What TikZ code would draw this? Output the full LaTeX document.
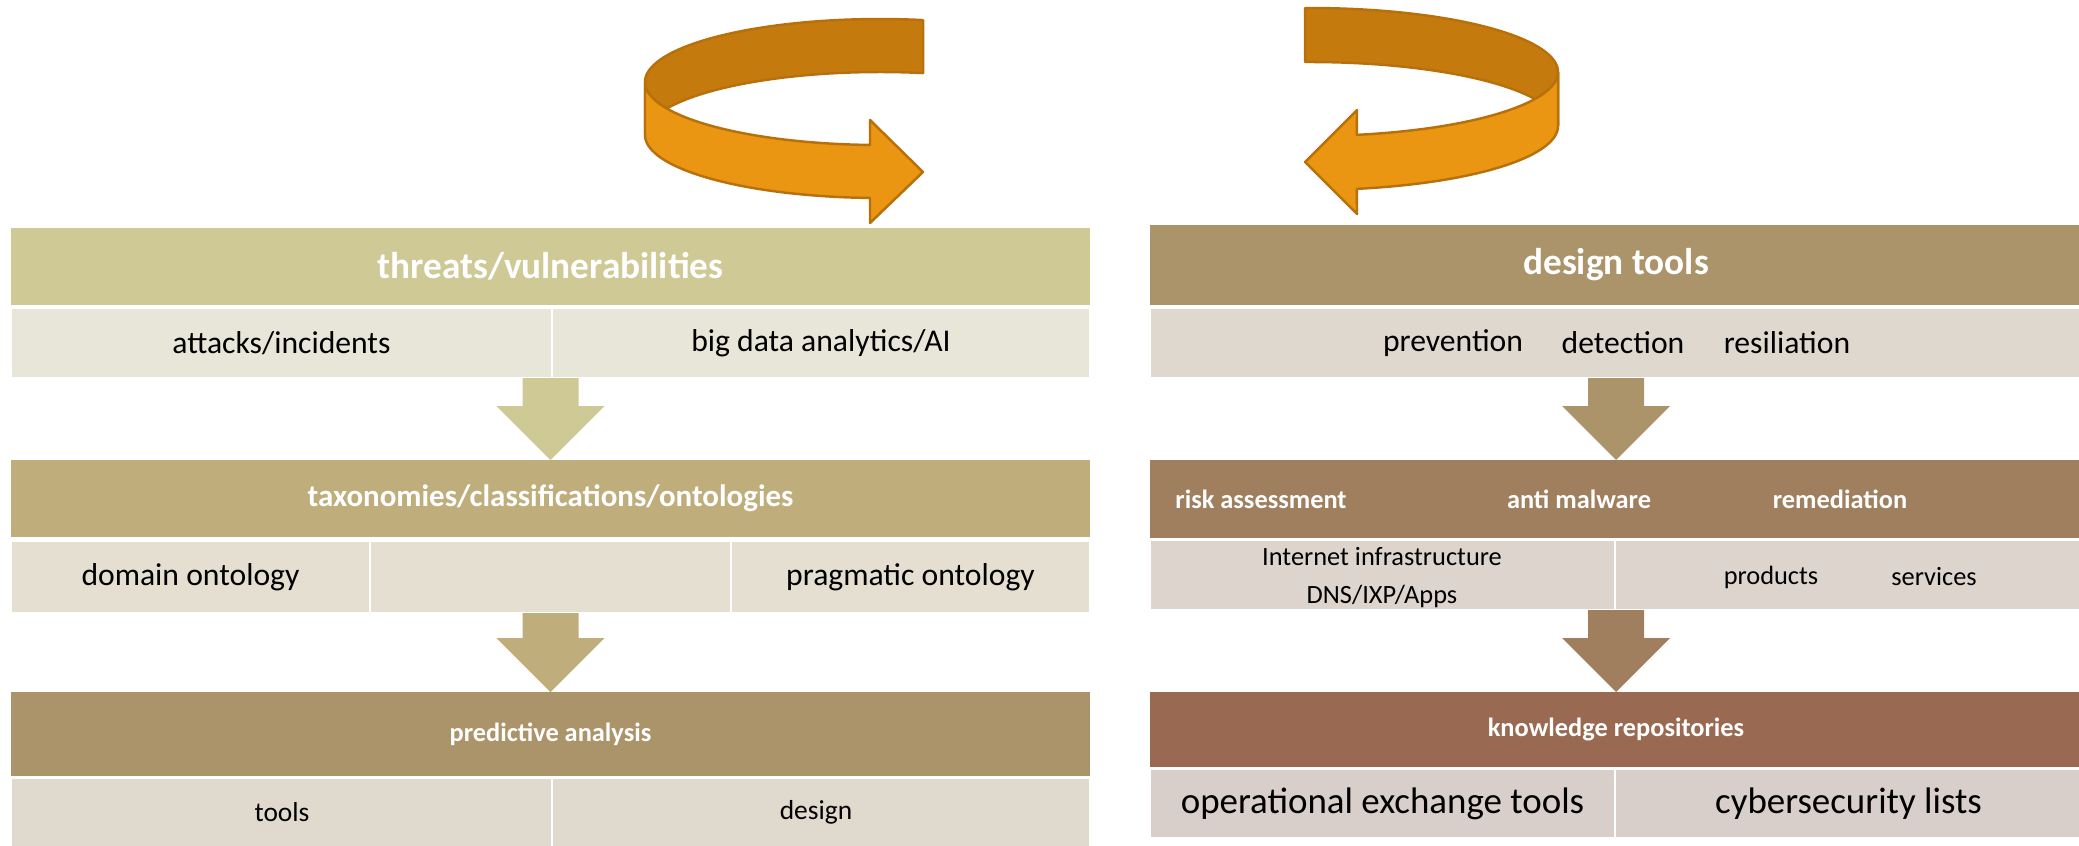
\documentclass[tikz,border=0pt]{standalone}
\usepackage{fontspec}
\setmainfont{Carlito}
\usetikzlibrary{fit,calc}
\definecolor{cA}{HTML}{CEC995}\definecolor{sAc}{HTML}{E8E6D8}
\definecolor{cB}{HTML}{BFAE7C}\definecolor{sBc}{HTML}{E4DFD1}
\definecolor{cC}{HTML}{AC946A}\definecolor{sCc}{HTML}{E0D9CE}
\definecolor{cD}{HTML}{AC946A}\definecolor{sDc}{HTML}{DFD8CE}
\definecolor{cE}{HTML}{A07F5E}\definecolor{sEc}{HTML}{DDD5CD}
\definecolor{cF}{HTML}{996A51}\definecolor{sFc}{HTML}{D9CFCA}
\definecolor{odark}{HTML}{C47A0D}\definecolor{olight}{HTML}{EB9612}\definecolor{oedge}{HTML}{B8700B}
\newcommand\blkarrow[3]{\fill[#3] ($(#2 |- #1)+(-28,0)$) -- ($(#2)+(-28,-54)$) -- ($(#2)+(-54,-54)$) -- (#2) -- ($(#2)+(54,-54)$) -- ($(#2)+(28,-54)$) -- ($(#2 |- #1)+(28,0)$) -- cycle;}
\begin{document}
\begin{tikzpicture}[x=0.01cm,y=-0.01cm,
  hdr/.style={inner sep=0pt, outer sep=0pt},
  cell/.style={inner sep=0pt, outer sep=0pt, draw=white, line width=0.6pt},
  lbl/.style={inner sep=0pt, outer sep=0pt, text=black},
  wl/.style={inner sep=0pt, outer sep=0pt, text=white, font=\bfseries\fontsize{7.5}{9}\selectfont},
  bigh/.style={inner sep=0pt, outer sep=0pt, text=white, font=\bfseries\fontsize{10.6}{13}\selectfont},
  sub9/.style={font=\fontsize{9}{11}\selectfont},
  sub75/.style={font=\fontsize{7.5}{9}\selectfont},
  ring/.style={draw=oedge, line width=0.7pt, line join=round}]
\useasboundingbox (0,0) rectangle (2079,845);

% ---------- curved arrows ----------
\filldraw[ring, fill=odark] plot[domain=79.45:180, samples=50] ({880+235*cos(\x)},{82-63*sin(\x)})
  -- plot[domain=180:79.45, samples=50] ({880+235*cos(\x)},{135-63*sin(\x)}) -- cycle;
\filldraw[ring, fill=olight] plot[domain=180:92.44, samples=50] ({880+235*cos(\x)},{82+63*sin(\x)})
  -- (870,120) -- (923,172) -- (870,223)
  -- plot[domain=92.44:180, samples=50] ({880+235*cos(\x)},{135+63*sin(\x)}) -- cycle;

\filldraw[ring, fill=odark] plot[domain=91.15:0, samples=50] ({1310+248*cos(\x)},{72-64*sin(\x)})
  -- plot[domain=0:91.15, samples=50] ({1310+248*cos(\x)},{126-64*sin(\x)}) -- cycle;
\filldraw[ring, fill=olight] plot[domain=0:79.1, samples=50] ({1310+248*cos(\x)},{72+64*sin(\x)})
  -- (1357,110) -- (1305,162) -- (1357,214)
  -- plot[domain=79.1:0, samples=50] ({1310+248*cos(\x)},{126+64*sin(\x)}) -- cycle;

% ---------- left column ----------
\node[hdr, fill=cA, fit={(11,228)(1090,305)}] (hA) {};
\node[bigh] (tA) at (hA.center) {threats/vulnerabilities};
\node[cell, fill=sAc, fit={(11,308)(552,378)}] (sA1) {};
\node[cell, fill=sAc, fit={(552,308)(1090,378)}] (sA2) {};
\node[lbl, sub9] (tA1) at (sA1.center) {attacks/incidents};
\node[lbl, sub9] (tA2) at (sA2.center) {big data analytics/AI};

\node[hdr, fill=cB, fit={(11,460)(1090,537)}] (hB) {};
\node[wl, font=\bfseries\fontsize{8.8}{11}\selectfont] (tB) at (hB.center) {taxonomies/classifications/ontologies};
\node[cell, fill=sBc, fit={(11,541)(370,613)}] (sB1) {};
\node[cell, fill=sBc, fit={(370,541)(731,613)}] (sB2) {};
\node[cell, fill=sBc, fit={(731,541)(1090,613)}] (sB3) {};
\node[lbl, sub9] (tB1) at (sB1.center) {domain ontology};
\node[lbl, sub9] (tB3) at (sB3.center) {pragmatic ontology};

\node[hdr, fill=cC, fit={(11,692)(1090,776)}] (hC) {};
\node[wl] (tC) at (hC.center) {predictive analysis};
\node[cell, fill=sCc, fit={(11,778)(552,848)}] (sC1) {};
\node[cell, fill=sCc, fit={(552,778)(1090,848)}] (sC2) {};
\node[lbl, font=\fontsize{7.8}{9}\selectfont] (tC1) at (282,812) {tools};
\node[lbl, font=\fontsize{7.8}{9}\selectfont] (tC2) at (816,812) {design};

\blkarrow{sA1.south east}{hB.north}{cA}
\blkarrow{sB2.south}{hC.north}{cB}

% ---------- right column ----------
\node[hdr, fill=cD, fit={(1150,225)(2082,305)}] (hD) {};
\node[bigh] (tD) at (hD.center) {design tools};
\node[cell, fill=sDc, fit={(1150,308)(2082,378)}] (sD) {};
\node[lbl, sub9] (tPrev) at (1453,343) {prevention};
\node[lbl, sub9] (tDet) at (1623,343) {detection};
\node[lbl, sub9] (tRes) at (1787,343) {resiliation};

\node[hdr, fill=cE, fit={(1150,460)(2082,538)}] (hE) {};
\node[wl] (tRisk) at (1261,499) {risk assessment};
\node[wl] (tAnti) at (1579,499) {anti malware};
\node[wl] (tRem) at (1840,499) {remediation};
\node[cell, fill=sEc, fit={(1150,540)(1615,610)}] (sE1) {};
\node[cell, fill=sEc, fit={(1615,540)(2082,610)}] (sE2) {};
\node[lbl, sub75] (tInt) at (1382,557) {Internet infrastructure};
\node[lbl, sub75] (tDns) at (1382,596) {DNS/IXP/Apps};
\node[lbl, sub75] (tProd) at (1771,577) {products};
\node[lbl, sub75] (tServ) at (1934,577) {services};

\node[hdr, fill=cF, fit={(1150,692)(2082,767)}] (hF) {};
\node[wl] (tF) at (hF.center) {knowledge repositories};
\node[cell, fill=sFc, fit={(1150,769)(1615,838)}] (sF1) {};
\node[cell, fill=sFc, fit={(1615,769)(2082,838)}] (sF2) {};
\node[lbl, font=\fontsize{10.5}{13}\selectfont] (tF1) at (sF1.center) {operational exchange tools};
\node[lbl, font=\fontsize{10.5}{13}\selectfont] (tF2) at (sF2.center) {cybersecurity lists};

\blkarrow{sD.south}{hE.north}{cD}
\blkarrow{sE1.south east}{hF.north}{cE}
\end{tikzpicture}
\end{document}
